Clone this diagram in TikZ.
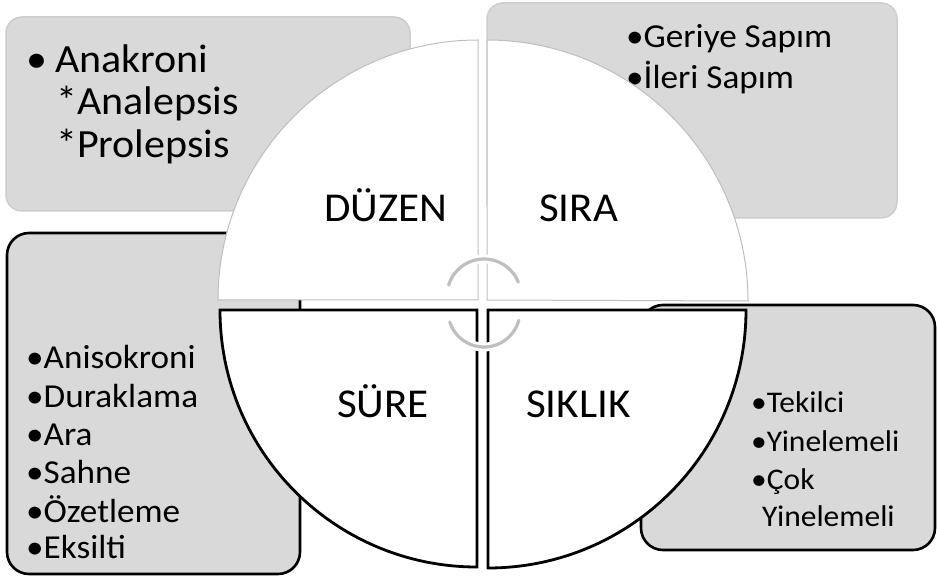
\documentclass[tikz,border=0pt]{standalone}
\usepackage{fontspec}
\setmainfont{Carlito}[FakeStretch=1.05]
\definecolor{boxgray}{RGB}{217,217,217}
\definecolor{lightline}{RGB}{205,205,205}
\definecolor{quadline}{RGB}{190,190,190}
\definecolor{icongray}{RGB}{191,191,191}
\begin{document}
\begin{tikzpicture}[x=1pt,y=-1pt,
  lightbox/.style={fill=boxgray,draw=lightline,line width=1.5pt,rounded corners=16pt},
  darkbox/.style={fill=boxgray,draw=black,line width=2.6pt,rounded corners=22pt},
  lightquad/.style={fill=white,draw=quadline,line width=1pt},
  darkquad/.style={fill=white,draw=black,line width=2.8pt},
  halo/.style={draw=white,line width=9pt},
  iconarc/.style={draw=icongray,line width=3.2pt,line cap=round},
  bigtxt/.style={anchor=base west,inner sep=0pt,font=\fontsize{40}{43}\selectfont},
  midtxt/.style={anchor=base west,inner sep=0pt,font=\fontsize{33.5}{38}\selectfont},
  smltxt/.style={anchor=base west,inner sep=0pt,font=\fontsize{30}{38}\selectfont},
  label/.style={anchor=base west,inner sep=0pt,font=\fontsize{41}{43}\selectfont}]
\useasboundingbox (0,0) rectangle (937,577);
% outer boxes
\path[lightbox] (6,17) rectangle (410,211);
\path[lightbox] (487,3) rectangle (897,218);
\path[darkbox] (7,233) rectangle (300,574);
\path[darkbox] (641,305) rectangle (935,550);
% box texts
\node[bigtxt] (b1) at (26,73) {•};
\node[bigtxt] (t1a) at (55,73) {Anakroni};
\node[bigtxt] (t1b) at (56,115) {*Analepsis};
\node[bigtxt] (t1c) at (56,158) {*Prolepsis};
\node[midtxt] (t2a) at (626,48) {•Geriye Sapım};
\node[midtxt] (t2b) at (626,89) {•İleri Sapım};
\node[midtxt] (t3a) at (26,368) {•Anisokroni};
\node[midtxt] (t3b) at (26,407) {•Duraklama};
\node[midtxt] (t3c) at (26,445) {•Ara};
\node[midtxt] (t3d) at (26,483) {•Sahne};
\node[midtxt] (t3e) at (26,522) {•Özetleme};
\node[midtxt] (t3f) at (26,558) {•Eksilti};
\node[smltxt] (t4a) at (751,412) {•Tekilci};
\node[smltxt] (t4b) at (751,451) {•Yinelemeli};
\node[smltxt] (t4c) at (751,489) {•Çok};
\node[smltxt] (t4d) at (762,526) {Yinelemeli};
% quadrants
\path[lightquad] (478,300) -- (218,300) arc[start angle=180,end angle=270,radius=260] -- cycle;
\path[lightquad] (487,300) -- (487,40) arc[start angle=270,end angle=360,radius=261] -- cycle;
\path[darkquad] (477,310) -- (220,310) arc[start angle=180,end angle=90,radius=257] -- cycle;
\path[darkquad] (488,310) -- (746,310) arc[start angle=0,end angle=90,radius=258] -- cycle;
% cycle icon
\draw[halo] (484,296) ++(197:37) arc[start angle=197,end angle=338,radius=37];
\draw[halo] (484,311) ++(15:36) arc[start angle=15,end angle=162,radius=36];
\draw[iconarc] (484,296) ++(197:37) arc[start angle=197,end angle=338,radius=37];
\draw[iconarc] (484,311) ++(15:36) arc[start angle=15,end angle=162,radius=36];
% labels
\node[label] (duzen) at (324,222) {DÜZEN};
\node[label] (sira) at (539,222) {SIRA};
\node[label] (sure) at (337,417) {SÜRE};
\node[label] (siklik) at (526,417) {SIKLIK};
\end{tikzpicture}
\end{document}
